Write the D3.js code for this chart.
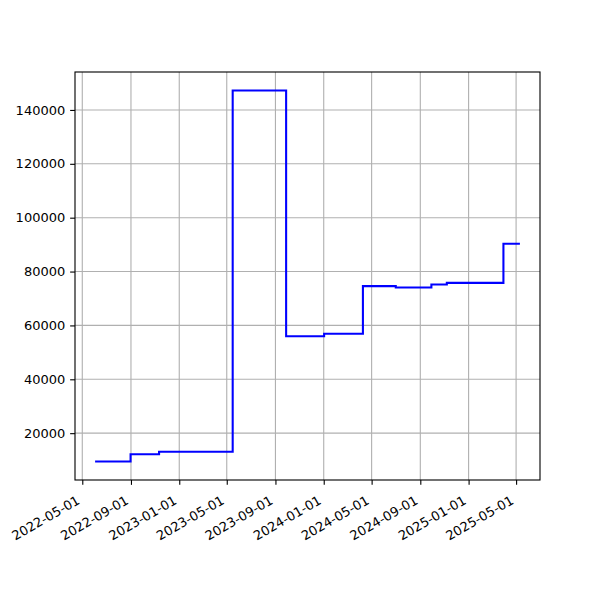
<!DOCTYPE html>
<html>
<head>
<meta charset="utf-8">
<script src="https://cdn.jsdelivr.net/npm/d3@7"></script>
<style>
html,body{margin:0;padding:0;background:#fff;}
svg{display:block;font-family:"DejaVu Sans",sans-serif;}
</style>
</head>
<body>
<svg id="chart" width="600" height="600"></svg>
<script>
const dates = ["2022-06-05","2022-08-31","2022-11-11","2023-05-16","2023-09-28","2024-01-02","2024-04-09","2024-07-01","2024-09-29","2024-11-07","2025-03-30","2025-05-08"];
const values = [9500,12200,13100,147200,56000,56900,74600,74100,75200,75800,90300,90300];
const xTickLabels = ["2022-05-01","2022-09-01","2023-01-01","2023-05-01","2023-09-01","2024-01-01","2024-05-01","2024-09-01","2025-01-01","2025-05-01"];
const yTicks = [20000,40000,60000,80000,100000,120000,140000];

const parse = d3.utcParse("%Y-%m-%d");
const data = dates.map((d,i)=>({date:parse(d), value:values[i]}));

const L=75, R=540, T=72, B=480;
const svg = d3.select("#chart");

const xExt = d3.extent(data, d=>+d.date);
const xPad = (xExt[1]-xExt[0])*0.05;
const x = d3.scaleUtc().domain([new Date(xExt[0]-xPad), new Date(xExt[1]+xPad)]).range([L,R]);
const yExt = d3.extent(values);
const yPad = (yExt[1]-yExt[0])*0.05;
const y = d3.scaleLinear().domain([yExt[0]-yPad, yExt[1]+yPad]).range([B,T]);

const xTicks = xTickLabels.map(parse);

// grid
const g = svg.append("g");
g.selectAll(".vg").data(xTicks).join("line")
  .attr("x1",d=>x(d)).attr("x2",d=>x(d)).attr("y1",T).attr("y2",B)
  .attr("stroke","#b0b0b0").attr("stroke-width",0.8*100/72);
g.selectAll(".hg").data(yTicks).join("line")
  .attr("x1",L).attr("x2",R).attr("y1",d=>y(d)).attr("y2",d=>y(d))
  .attr("stroke","#b0b0b0").attr("stroke-width",0.8*100/72);

// line
const line = d3.line().x(d=>x(d.date)).y(d=>y(d.value)).curve(d3.curveStepAfter);
svg.append("path").datum(data).attr("d",line)
  .attr("fill","none").attr("stroke","#0000ff").attr("stroke-width",1.5*100/72)
  .attr("stroke-linejoin","miter").attr("stroke-linecap","square");

// axes
const fs = 13;
const xAxis = d3.axisBottom(x).tickValues(xTicks).tickSize(3.5*100/72).tickPadding(4.9).tickFormat(d3.utcFormat("%Y-%m-%d"));
const xa = svg.append("g").attr("transform",`translate(0,${B})`).call(xAxis);
xa.select(".domain").remove();
xa.selectAll(".tick line").attr("stroke","#000").attr("stroke-width",0.8*100/72);
xa.selectAll(".tick text")
  .attr("font-size",fs).attr("font-family","DejaVu Sans").attr("fill","#000")
  .attr("text-anchor","end").attr("dy",null).attr("y",null)
  .attr("transform","translate(-2,23) rotate(-30)");

const yAxis = d3.axisLeft(y).tickValues(yTicks).tickSize(3.5*100/72).tickPadding(4.9).tickFormat(d3.format("d"));
const ya = svg.append("g").attr("transform",`translate(${L},0)`).call(yAxis);
ya.select(".domain").remove();
ya.selectAll(".tick line").attr("stroke","#000").attr("stroke-width",0.8*100/72);
ya.selectAll(".tick text").attr("font-size",fs).attr("font-family","DejaVu Sans").attr("fill","#000");

// frame
svg.append("rect").attr("x",L).attr("y",T).attr("width",R-L).attr("height",B-T)
  .attr("fill","none").attr("stroke","#000").attr("stroke-width",0.8*100/72);
</script>
</body>
</html>
